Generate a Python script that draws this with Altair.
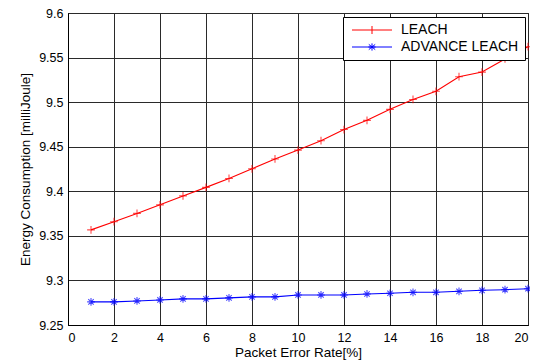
import altair as alt
import pandas as pd

per = list(range(1, 21))
leach = [9.3567, 9.3659, 9.3752, 9.3848, 9.3948, 9.4044, 9.4144, 9.4252, 9.4363, 9.4462,
         9.4567, 9.4693, 9.4796, 9.4919, 9.5030, 9.5122, 9.5285, 9.5337, 9.5485, 9.5622]
adv = [9.2759, 9.2759, 9.2770, 9.2781, 9.2793, 9.2793, 9.2804, 9.2815, 9.2815, 9.2837,
       9.2837, 9.2837, 9.2848, 9.2856, 9.2867, 9.2867, 9.2878, 9.2889, 9.2896, 9.2907]
series = ["LEACH", "ADVANCE LEACH"]
colors = ["#ff0000", "#0000ff"]
y_ticks = [9.25, 9.3, 9.35, 9.4, 9.45, 9.5, 9.55, 9.6]
x_ticks = list(range(0, 21, 2))

df = pd.DataFrame({
    "x": per + per,
    "y": leach + adv,
    "s": [series[0]] * len(per) + [series[1]] * len(per),
})

FONT = "Liberation Sans"
CROSS = "M-1,0H1M0,-1V1"
STAR = "M-1,0H1M0,-1V1M-0.7,-0.7L0.7,0.7M-0.7,0.7L0.7,-0.7"
# legend glyphs: a line segment with the marker in its middle (unit = 4px with size 64)
LEG_CROSS = "M-1,0H9M4,-1V1"
LEG_STAR = "M-1,0H9M4,-0.9V0.9M3.2,-0.65L4.8,0.65M3.2,0.65L4.8,-0.65M3.1,0H4.9"

xenc = alt.X("x:Q", scale=alt.Scale(domain=[0, 20], nice=False),
             axis=alt.Axis(values=x_ticks, format="d", title="Packet Error Rate[%]"))
yenc = alt.Y("y:Q", scale=alt.Scale(domain=[9.25, 9.6], nice=False, zero=False),
             axis=alt.Axis(values=y_ticks, format=".2~f", title="Energy Consumption [milliJoule]"))
cenc_nolegend = alt.Color("s:N", scale=alt.Scale(domain=series, range=colors), legend=None)


def make_legend():
    return alt.Legend(title=None, orient="none", legendX=275, legendY=4,
                      symbolSize=64, symbolStrokeWidth=1, symbolOpacity=1,
                      symbolFillColor="transparent",
                      labelFontSize=14, labelFont=FONT, labelColor="black",
                      strokeColor="black", fillColor="white", padding=6,
                      rowPadding=3, labelOffset=38)


base = alt.Chart(df)
lines = base.mark_line(strokeWidth=1.1).encode(x=xenc, y=yenc, color=cenc_nolegend)
pts = base.mark_point(filled=False, strokeWidth=1.1, size=60).encode(
    x=xenc, y=yenc, color=cenc_nolegend,
    shape=alt.Shape("s:N", scale=alt.Scale(domain=series, range=[CROSS, STAR]), legend=None),
)
legend_layer = base.mark_point(filled=False, strokeWidth=1, opacity=0).encode(
    x=xenc, y=yenc,
    color=alt.Color("s:N", scale=alt.Scale(domain=series, range=colors), legend=make_legend()),
    shape=alt.Shape("s:N", scale=alt.Scale(domain=series, range=[LEG_CROSS, LEG_STAR]),
                    legend=make_legend()),
)

chart = alt.layer(lines, pts, legend_layer).resolve_scale(
    shape="independent", color="independent"
).properties(
    width=460, height=312,
    autosize=alt.AutoSizeParams(type="none"),
    padding={"left": 60, "top": 5, "right": 2, "bottom": 36},
).configure_view(stroke="black", strokeWidth=1).configure_axis(
    grid=True, gridColor="#2a2a2a", gridWidth=1, gridOpacity=1,
    domainColor="black", ticks=False, labelFont=FONT, labelFontSize=12.5, labelColor="black",
    titleFont=FONT, titleFontSize=13.5, titleFontWeight="normal", titleColor="black",
    labelPadding=5,
).configure_axisY(titlePadding=6).configure_axisX(titlePadding=2, labelPadding=6)

chart.save("out.html", embed_options={"renderer": "svg", "actions": False})
